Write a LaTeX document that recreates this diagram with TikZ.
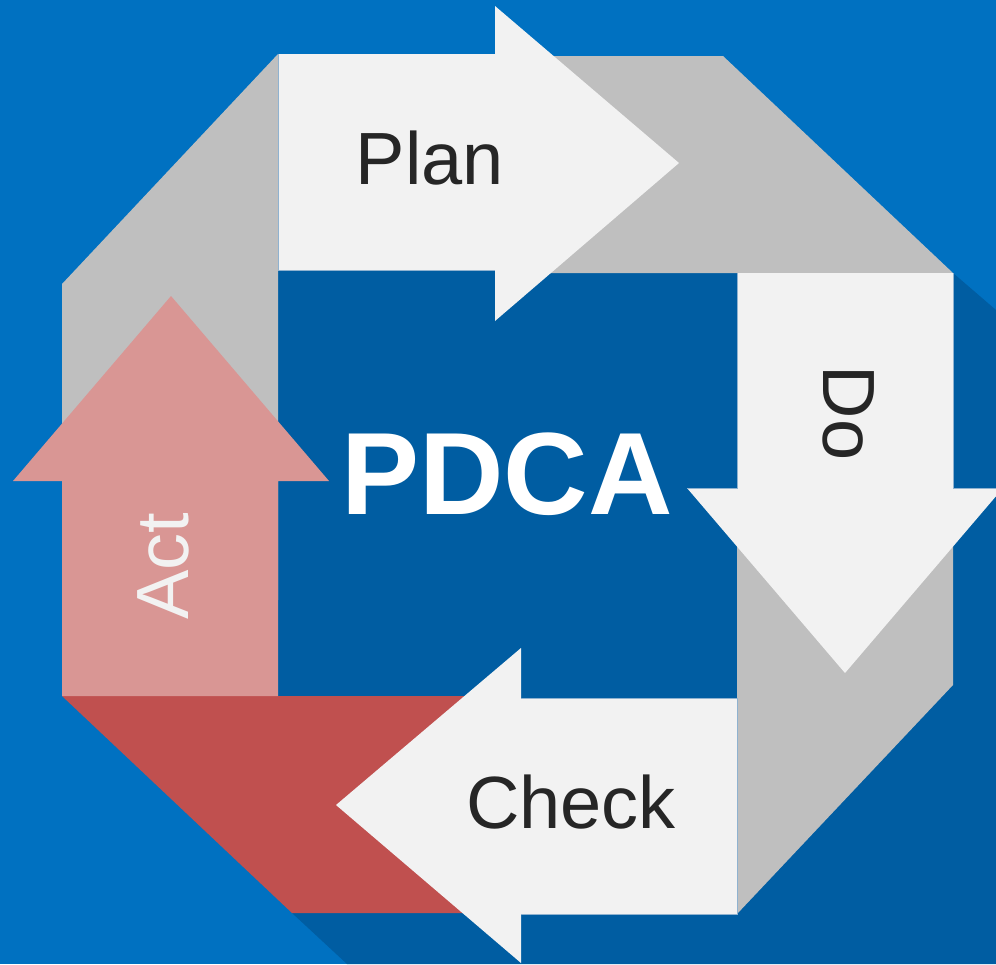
\documentclass[tikz,border=0pt]{standalone}
\usepackage{fontspec}
\setmainfont{Liberation Sans}
\definecolor{bgblue}{HTML}{0071C1}
\definecolor{darkblue}{HTML}{005DA2}
\definecolor{foldgray}{HTML}{BFBFBF}
\definecolor{arrowwhite}{HTML}{F2F2F2}
\definecolor{foldred}{HTML}{C0504F}
\definecolor{arrowpink}{HTML}{D99694}
\definecolor{inktext}{HTML}{262626}
\definecolor{edgeblue}{HTML}{8FB2D0}
\tikzset{
  fold/.style={fill=foldgray,draw=none},
  whitearrow/.style={fill=arrowwhite,draw=none},
  shaftedge/.style={draw=edgeblue,line width=0.6pt},
  label/.style={text=inktext,font=\fontsize{74}{74}\selectfont,inner sep=0pt,anchor=center},
}
\begin{document}
\begin{tikzpicture}[x=1pt,y=-1pt]
\useasboundingbox (0,0) rectangle (996,964);
\clip (0,0) rectangle (996,964);
\fill[bgblue] (0,0) rectangle (996,964);
% long shadow
\fill[darkblue] (953,273) -- (996,310) -- (996,964) -- (347,964) -- (292,913) -- (278,500) -- cycle;
\fill[darkblue] (278,270) rectangle (737,698);
% folds
\fill[fold] (530,56) -- (723,56) -- (953,273) -- (530,273) -- cycle;
\fill[fold] (737,400) -- (953,400) -- (953,685) -- (737,914) -- cycle;
\fill[fold] (278,54) -- (62,284) -- (62,600) -- (278,600) -- cycle;
\fill[foldred] (62,696) -- (485,696) -- (485,913) -- (292,913) -- cycle;
% arrows
\fill[whitearrow] (278,54) -- (495,54) -- (495,6) -- (679,163) -- (495,321) -- (495,270) -- (278,270) -- cycle;
\draw[shaftedge] (278,54) -- (278,270) -- (495,270);
\fill[whitearrow] (737,273) -- (953,273) -- (953,488) -- (1003,488) -- (845,673) -- (687,488) -- (737,488) -- cycle;
\draw[shaftedge] (687,488) -- (737,488) -- (737,273);
\draw[shaftedge] (953,273) -- (953,488) -- (996,488);
\fill[whitearrow] (737,698) -- (521,698) -- (521,648) -- (336,805) -- (521,963) -- (521,914) -- (737,914) -- cycle;
\draw[shaftedge] (521,698) -- (737,698) -- (737,914) -- (521,914);
\fill[arrowpink] (171,296) -- (329,481) -- (278,481) -- (278,696) -- (62,696) -- (62,481) -- (13,481) -- cycle;
% labels
\node[label] (plan) at (430,158) {Plan};
\node[label,rotate=-90] (do) at (849,413) {Do};
\node[label] (check) at (571,802) {Check};
\node[label,text=arrowwhite,rotate=90] (act) at (163,566) {Act};
\node[text=white,inner sep=0pt,font=\fontsize{117}{117}\selectfont\bfseries] (pdca) at (507,474) {PDCA};
\end{tikzpicture}
\end{document}
